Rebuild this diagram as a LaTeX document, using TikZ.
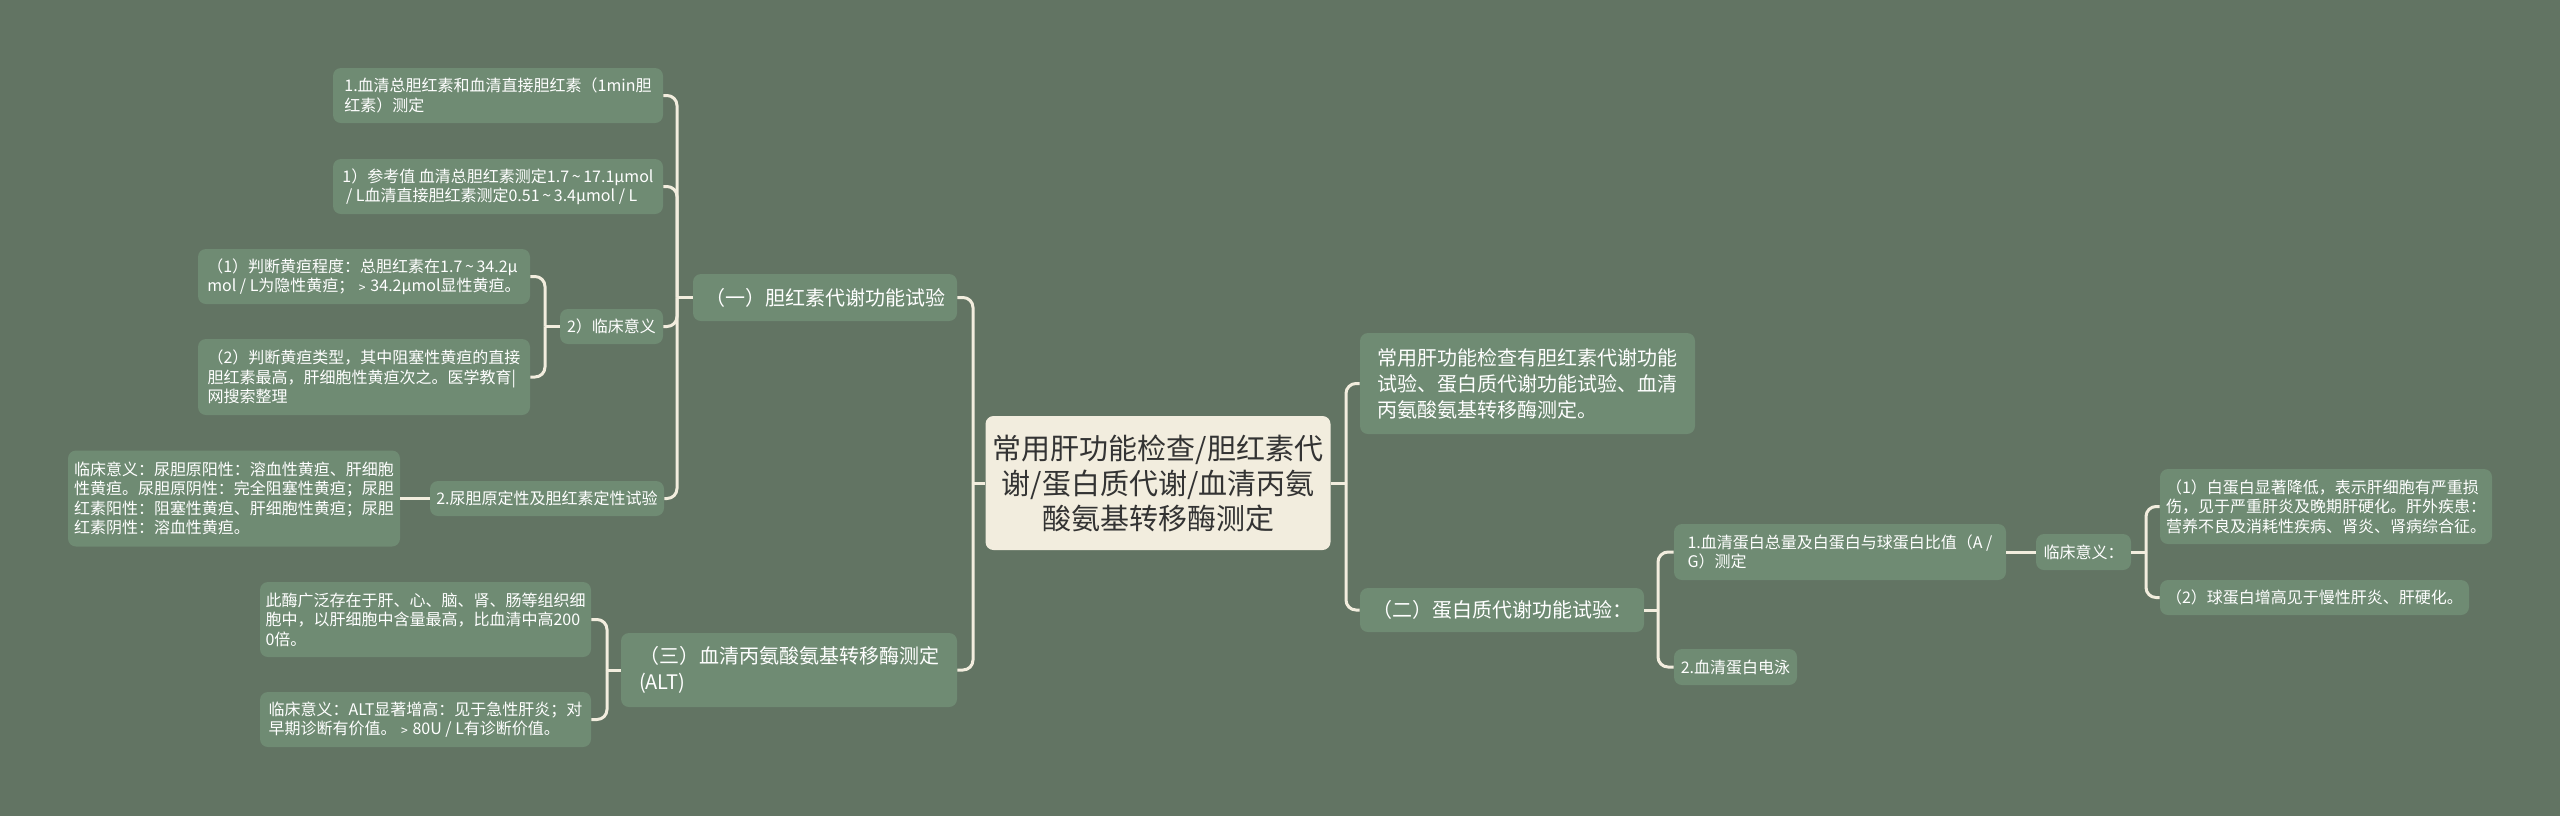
\documentclass[tikz,border=0pt]{standalone}
\usepackage{fontspec}
\setmainfont{Noto Sans CJK SC}
\usepackage{tikz}

\definecolor{mapbg}{HTML}{627463}
\definecolor{boxgreen}{HTML}{6F8B73}
\definecolor{rootcream}{HTML}{F2EDDE}
\definecolor{rootink}{HTML}{333333}
\definecolor{linkcream}{HTML}{F2EDDE}

\newcommand{\rng}{\,\textasciitilde\,}

\tikzset{
	leaf/.style={fill=boxgreen, rounded corners=4pt, text=white, align=left, inner sep=0pt, font=\fontsize{8}{9.7}\selectfont},
	branch/.style={leaf, font=\fontsize{10}{13}\selectfont},
	rootbox/.style={fill=rootcream, text=rootink, rounded corners=4pt, align=center, inner sep=0pt, font=\fontsize{14.5}{17.5}\selectfont},
	link/.style={draw=linkcream, line width=1.5pt, rounded corners=5pt},
}

\begin{document}
\begin{tikzpicture}[x=0.5pt,y=-0.5pt]
	\fill[mapbg] (0,0) rectangle (2560,816);

	\node[rootbox, minimum width=172.5pt, minimum height=67pt] (root) at (1158,483) {常用肝功能检查/胆红素代\\谢/蛋白质代谢/血清丙氨\\酸氨基转移酶测定};

	% right half
	\node[branch, minimum width=167.5pt, minimum height=50.5pt] (summary) at (1527.5,383.5) {常用肝功能检查有胆红素代谢功能\\试验、蛋白质代谢功能试验、血清\\丙氨酸氨基转移酶测定。};
	\node[branch, minimum width=142pt, minimum height=22pt] (prot) at (1502,610) {（二）蛋白质代谢功能试验：};
	\node[leaf, minimum width=166pt, minimum height=28pt] (ag) at (1840,552) {1.血清蛋白总量及白蛋白与球蛋白比值（A /\\G）测定};
	\node[leaf, minimum width=61.5pt, minimum height=18pt] (elec) at (1735.5,667) {2.血清蛋白电泳};
	\node[leaf, minimum width=47.5pt, minimum height=18pt] (agmean) at (2083.5,552) {临床意义：};
	\node[leaf, minimum width=166pt, minimum height=37.5pt] (albdown) at (2326,506.5) {（1）白蛋白显著降低，表示肝细胞有严重损\\伤，见于严重肝炎及晚期肝硬化。肝外疾患：\\营养不良及消耗性疾病、肾炎、肾病综合征。};
	\node[leaf, minimum width=154.5pt, minimum height=17.5pt] (globup) at (2314.5,597.5) {（2）球蛋白增高见于慢性肝炎、肝硬化。};

	% left half
	\node[branch, minimum width=132pt, minimum height=23.5pt] (bili) at (825,297.5) {（一）胆红素代谢功能试验};
	\node[leaf, minimum width=165pt, minimum height=27.5pt] (serum) at (498,95.5) {1.血清总胆红素和血清直接胆红素（1min胆\\红素）测定};
	\node[leaf, minimum width=165pt, minimum height=27.5pt] (refval) at (498,186.5) {1）参考值 血清总胆红素测定1.7\rng17.1μmol\\\ / L血清直接胆红素测定0.51\rng3.4μmol / L};
	\node[leaf, minimum width=51.5pt, minimum height=17.5pt] (bilimean) at (611.5,326.5) {2）临床意义};
	\node[leaf, minimum width=166pt, minimum height=27.5pt] (degree) at (364,276.5) {（1）判断黄疸程度：总胆红素在1.7\rng34.2μ\\mol / L为隐性黄疸；﹥34.2μmol显性黄疸。};
	\node[leaf, minimum width=166pt, minimum height=38pt] (kind) at (364,377) {（2）判断黄疸类型，其中阻塞性黄疸的直接\\胆红素最高，肝细胞性黄疸次之。医学教育|\\网搜索整理};
	\node[leaf, minimum width=117pt, minimum height=17.5pt] (urine) at (547,498.5) {2.尿胆原定性及胆红素定性试验};
	\node[leaf, minimum width=166pt, minimum height=48pt] (urinemean) at (234,498.5) {临床意义：尿胆原阳性：溶血性黄疸、肝细胞\\性黄疸。尿胆原阴性：完全阻塞性黄疸；尿胆\\红素阳性：阻塞性黄疸、肝细胞性黄疸；尿胆\\红素阴性：溶血性黄疸。};
	\node[branch, minimum width=168pt, minimum height=37pt] (alt) at (789,670) {（三）血清丙氨酸氨基转移酶测定\\(ALT)};
	\node[leaf, minimum width=165.5pt, minimum height=37.5pt] (enzyme) at (425.5,619.5) {此酶广泛存在于肝、心、脑、肾、肠等组织细\\胞中，以肝细胞中含量最高，比血清中高200\\0倍。};
	\node[leaf, minimum width=165.5pt, minimum height=27.5pt] (altmean) at (425.5,719.5) {临床意义：ALT显著增高：见于急性肝炎；对\\早期诊断有价值。﹥80U / L有诊断价值。};

	% junctions
	\coordinate (jl) at (973,483);
	\coordinate (jr) at (1346,483);
	\coordinate (jbili) at (677,297.5);
	\coordinate (jmean) at (545,326.5);
	\coordinate (jalt) at (607,670);
	\coordinate (jprot) at (1658,610);
	\coordinate (jag) at (2146,552);

	\draw[link] (root.west) -- (jl);
	\draw[link] (jl) |- (bili.east);
	\draw[link] (jl) |- (alt.east);
	\draw[link] (root.east) -- (jr);
	\draw[link] (jr) |- (summary.west);
	\draw[link] (jr) |- (prot.west);

	\draw[link] (bili.west) -- (jbili);
	\draw[link] (jbili) |- (serum.east);
	\draw[link] (jbili) |- (refval.east);
	\draw[link] (jbili) |- (bilimean.east);
	\draw[link] (jbili) |- (urine.east);
	\draw[link] (bilimean.west) -- (jmean);
	\draw[link] (jmean) |- (degree.east);
	\draw[link] (jmean) |- (kind.east);
	\draw[link] (urine.west) -- (urinemean.east);

	\draw[link] (alt.west) -- (jalt);
	\draw[link] (jalt) |- (enzyme.east);
	\draw[link] (jalt) |- (altmean.east);

	\draw[link] (prot.east) -- (jprot);
	\draw[link] (jprot) |- (ag.west);
	\draw[link] (jprot) |- (elec.west);
	\draw[link] (ag.east) -- (agmean.west);
	\draw[link] (agmean.east) -- (jag);
	\draw[link] (jag) |- (albdown.west);
	\draw[link] (jag) |- (globup.west);
\end{tikzpicture}
\end{document}
